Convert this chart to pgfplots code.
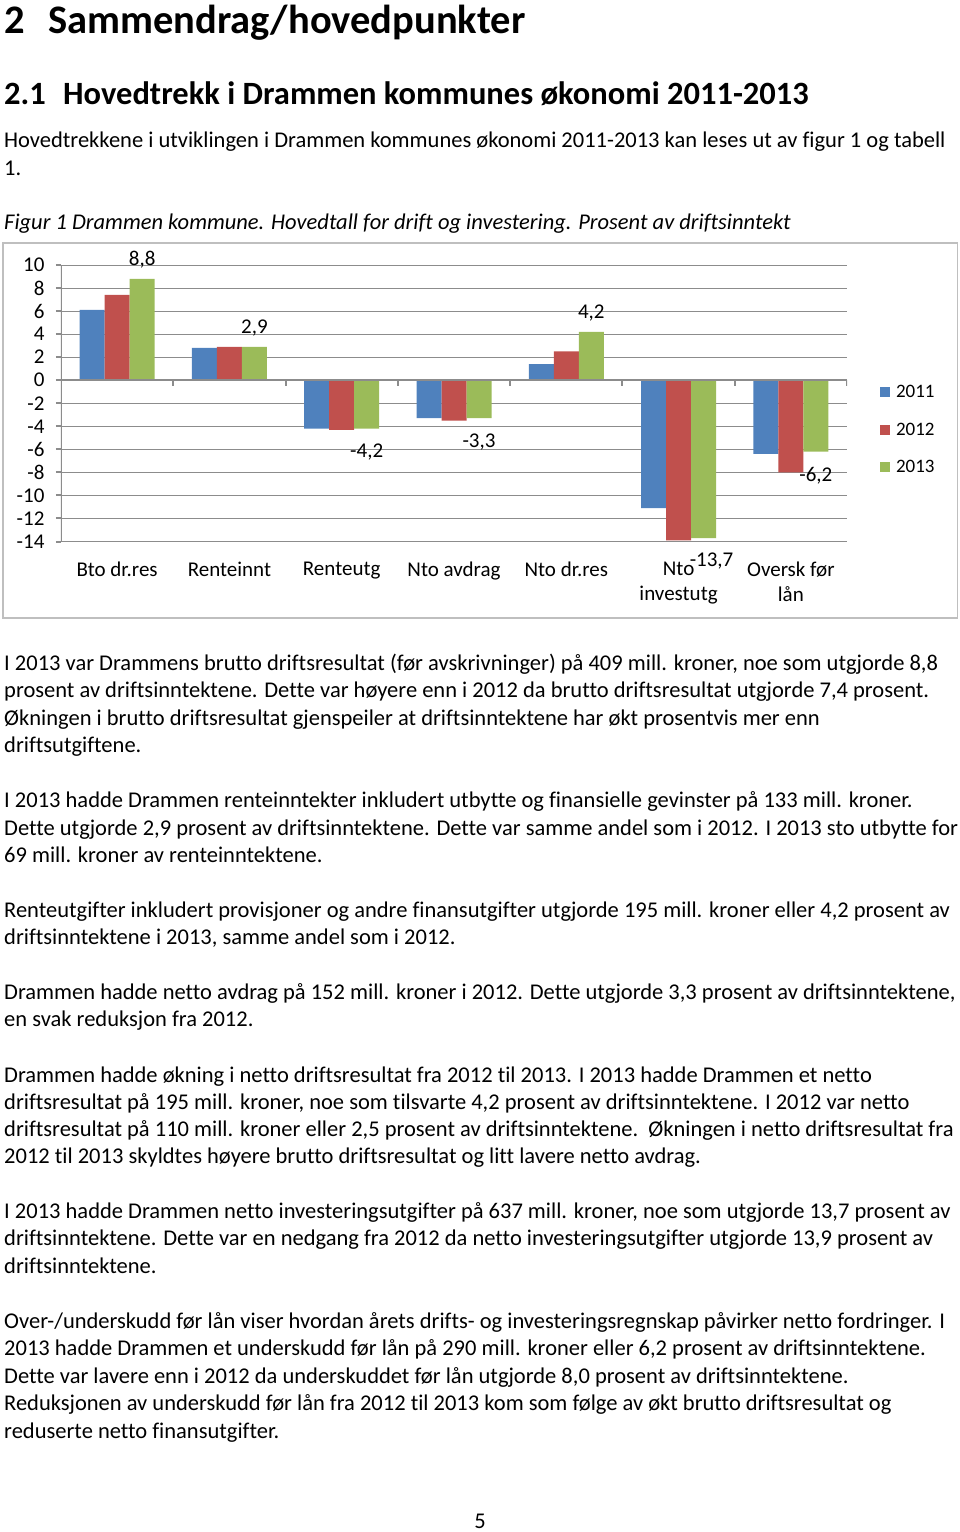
\documentclass[border=0pt]{standalone}
\usepackage{fontspec}
\setmainfont[Ligatures={NoCommon}]{Carlito}
\usepackage{pgfplots}
\pgfplotsset{compat=1.18}
\definecolor{c2011}{HTML}{4F81BD}
\definecolor{c2012}{HTML}{C0504D}
\definecolor{c2013}{HTML}{9BBB59}
\definecolor{gridgray}{HTML}{8C8C8C}
\definecolor{framegray}{HTML}{BFBFBF}
\newcommand{\body}{\fontsize{22.5pt}{26pt}\selectfont}
\newcommand{\chartfont}{\fontsize{21pt}{25pt}\selectfont}
\begin{document}
\begin{tikzpicture}
\path (0pt,0pt) rectangle (960pt,-1532pt);
% headings
\node[anchor=base west, inner sep=0pt, font=\fontsize{40.5pt}{44pt}\selectfont\bfseries] at (4pt,-33pt) {2};
\node[anchor=base west, inner sep=0pt, font=\fontsize{40.5pt}{44pt}\selectfont\bfseries] at (48pt,-33pt) {Sammendrag/hovedpunkter};
\node[anchor=base west, inner sep=0pt, font=\fontsize{32.5pt}{36pt}\selectfont\bfseries] at (4pt,-104pt) {2.1};
\node[anchor=base west, inner sep=0pt, font=\fontsize{32.5pt}{36pt}\selectfont\bfseries] at (63pt,-104pt) {Hovedtrekk i Drammen kommunes økonomi 2011-2013};
\begin{scope}[every node/.style={anchor=base west, inner sep=0pt, font=\body}]
\node at (4pt,-147pt) {Hovedtrekkene i utviklingen i Drammen kommunes økonomi 2011-2013 kan leses ut av figur 1 og tabell};
\node at (4pt,-175pt) {1.};
\node[font=\body\itshape] at (4pt,-229pt) {Figur 1 Drammen kommune. Hovedtall for drift og investering. Prosent av driftsinntekt};
\node at (4pt,-670pt) {I 2013 var Drammens brutto driftsresultat (før avskrivninger) på 409 mill. kroner, noe som utgjorde 8,8};
\node at (4pt,-697pt) {prosent av driftsinntektene. Dette var høyere enn i 2012 da brutto driftsresultat utgjorde 7,4 prosent.};
\node at (4pt,-725pt) {Økningen i brutto driftsresultat gjenspeiler at driftsinntektene har økt prosentvis mer enn};
\node at (4pt,-752pt) {driftsutgiftene.};
\node at (4pt,-807pt) {I 2013 hadde Drammen renteinntekter inkludert utbytte og finansielle gevinster på 133 mill. kroner.};
\node at (4pt,-835pt) {Dette utgjorde 2,9 prosent av driftsinntektene. Dette var samme andel som i 2012. I 2013 sto utbytte for};
\node at (4pt,-862pt) {69 mill. kroner av renteinntektene.};
\node at (4pt,-917pt) {Renteutgifter inkludert provisjoner og andre finansutgifter utgjorde 195 mill. kroner eller 4,2 prosent av};
\node at (4pt,-944pt) {driftsinntektene i 2013, samme andel som i 2012.};
\node at (4pt,-999pt) {Drammen hadde netto avdrag på 152 mill. kroner i 2012. Dette utgjorde 3,3 prosent av driftsinntektene,};
\node at (4pt,-1026pt) {en svak reduksjon fra 2012.};
\node at (4pt,-1082pt) {Drammen hadde økning i netto driftsresultat fra 2012 til 2013. I 2013 hadde Drammen et netto};
\node at (4pt,-1109pt) {driftsresultat på 195 mill. kroner, noe som tilsvarte 4,2 prosent av driftsinntektene. I 2012 var netto};
\node at (4pt,-1136pt) {driftsresultat på 110 mill. kroner eller 2,5 prosent av driftsinntektene.\ \ Økningen i netto driftsresultat fra};
\node at (4pt,-1163pt) {2012 til 2013 skyldtes høyere brutto driftsresultat og litt lavere netto avdrag.};
\node at (4pt,-1218pt) {I 2013 hadde Drammen netto investeringsutgifter på 637 mill. kroner, noe som utgjorde 13,7 prosent av};
\node at (4pt,-1245pt) {driftsinntektene. Dette var en nedgang fra 2012 da netto investeringsutgifter utgjorde 13,9 prosent av};
\node at (4pt,-1273pt) {driftsinntektene.};
\node at (4pt,-1328pt) {Over-/underskudd før lån viser hvordan årets drifts- og investeringsregnskap påvirker netto fordringer. I};
\node at (4pt,-1355pt) {2013 hadde Drammen et underskudd før lån på 290 mill. kroner eller 6,2 prosent av driftsinntektene.};
\node at (4pt,-1383pt) {Dette var lavere enn i 2012 da underskuddet før lån utgjorde 8,0 prosent av driftsinntektene.};
\node at (4pt,-1410pt) {Reduksjonen av underskudd før lån fra 2012 til 2013 kom som følge av økt brutto driftsresultat og};
\node at (4pt,-1438pt) {reduserte netto finansutgifter.};
\node[anchor=base] at (480pt,-1528pt) {5};
\end{scope}
% chart frame
\draw[framegray, line width=1.5pt] (3pt,-243pt) rectangle (957.5pt,-618pt);
\begin{axis}[
  at={(61pt,-541.5pt)}, anchor=south west,
  scale only axis, width=786pt, height=276.5pt,
  xmin=-0.5, xmax=6.5, ymin=-14, ymax=10,
  ybar=0pt, bar width=25pt,
  axis line style={draw=none},
  xtick={0,1,2,3,4,5,6},
  xticklabels={Bto dr.res, Renteinnt, Renteutg, Nto avdrag, Nto dr.res, Nto\\investutg, Oversk før\\lån},
  xtick style={draw=none},
  xticklabel style={font=\chartfont, align=center, anchor=north, yshift=-12pt},
  ytick={-14,-12,...,10},
  yticklabels={-14,-12,-10,-8,-6,-4,-2,0,2,4,6,8,10},
  ytick pos=left,
  tick align=outside,
  major tick length=5pt,
  ytick style={gridgray, line width=2pt},
  yticklabel style={font=\chartfont, anchor=east, xshift=-8pt},
  ymajorgrids=true,
  grid style={gridgray, line width=1pt},
  legend style={at={(1.038,0.404)}, anchor=west, draw=none, fill=none, font=\fontsize{19pt}{22pt}\selectfont, row sep=19.5pt,
    /tikz/every odd column/.append style={column sep=4pt}},
  legend cell align=left,
  legend image code/.code={\fill[#1] (0pt,-5pt) rectangle (10pt,5pt);},
]
\addplot[fill=c2011, draw=none] coordinates {(0,6.1) (1,2.8) (2,-4.2) (3,-3.3) (4,1.4) (5,-11.1) (6,-6.4)};
\addplot[fill=c2012, draw=none] coordinates {(0,7.4) (1,2.9) (2,-4.3) (3,-3.5) (4,2.5) (5,-13.9) (6,-8.0)};
\addplot[fill=c2013, draw=none, nodes near coords, point meta=explicit symbolic,
  visualization depends on={rawy \as \rawyval},
  every node near coord/.append style={font=\chartfont, text=black, inner ysep=10pt,
    /utils/exec={%
      \pgfmathparse{\rawyval<0 ? "north" : "south"}\global\let\myanchor\pgfmathresult
      \pgfmathparse{\rawyval<0 ? -5 : 0}\global\let\myyshift\pgfmathresult
      \pgfmathparse{\rawyval<-10 ? 8 : 0}\global\let\myxshift\pgfmathresult},
    anchor=\myanchor, yshift=\myyshift pt, xshift=\myxshift pt}]
  coordinates {(0,8.8) [8,8] (1,2.9) [2,9] (2,-4.2) [-4,2] (3,-3.3) [-3,3] (4,4.2) [4,2] (5,-13.7) [-13,7] (6,-6.2) [-6,2]};
\legend{2011,2012,2013}
\draw[gridgray, line width=2.5pt] (axis cs:-0.5,0) -- (axis cs:6.5,0);
\draw[gridgray, line width=2.5pt] (axis cs:-0.5,-14) -- (axis cs:-0.5,10);
\pgfplotsinvokeforeach{0.5,1.5,2.5,3.5,4.5,5.5,6.5}{
  \draw[gridgray, line width=2pt] (axis cs:#1,0) -- ++(0pt,-6pt);
}
\end{axis}
\end{tikzpicture}
\end{document}
